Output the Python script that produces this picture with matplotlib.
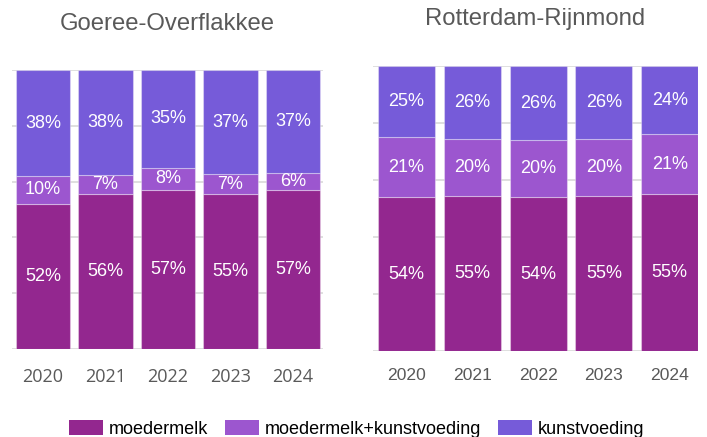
import matplotlib
matplotlib.use("Agg")
import matplotlib.pyplot as plt
from matplotlib.patches import Patch
import numpy as np

years = ["2020", "2021", "2022", "2023", "2024"]
series_names = ["moedermelk", "moedermelk+kunstvoeding", "kunstvoeding"]
colors = ["#93278F", "#9C56CF", "#765BD9"]

go_moedermelk = [52, 56, 57, 55, 57]
go_mm_kv = [10, 7, 8, 7, 6]
go_kunstvoeding = [38, 38, 35, 37, 37]

rr_moedermelk = [54, 55, 54, 55, 55]
rr_mm_kv = [21, 20, 20, 20, 21]
rr_kunstvoeding = [25, 26, 26, 26, 24]

titles = ["Goeree-Overflakkee", "Rotterdam-Rijnmond"]

W, H = 707, 437
fig = plt.figure(figsize=(W / 100, H / 100), dpi=100)

def px_axes(x0, y0, x1, y1):
    return fig.add_axes([x0 / W, 1 - y1 / H, (x1 - x0) / W, (y1 - y0) / H])

ax1 = px_axes(12, 70, 323, 349)
ax2 = px_axes(373, 66, 698, 351)

def draw(ax, data, xlim, barw, tickfont, tickpad, ticksize):
    data = np.array(data, dtype=float)
    totals = data.sum(axis=0)
    pct = data / totals * 100
    x = np.arange(len(years))
    bottom = np.zeros(len(years))
    for i, (vals, raw) in enumerate(zip(pct, data)):
        bars = ax.bar(x, vals, bottom=bottom, width=barw, color=colors[i],
                      edgecolor=(1, 1, 1, 0.35), linewidth=0.8, zorder=2)
        for b, v, bt, r in zip(bars, vals, bottom, raw):
            ax.text(b.get_x() + b.get_width() / 2, bt + v / 2, f"{int(r)}%",
                    ha="center", va="center", color="white", fontsize=13,
                    family="Liberation Sans", zorder=3)
        bottom += vals
    ax.set_ylim(0, 100)
    ax.set_xlim(*xlim)
    ax.set_yticks([0, 20, 40, 60, 80, 100])
    ax.yaxis.grid(True, color="#d9d9d9", linewidth=1.2, zorder=0)
    ax.set_axisbelow(True)
    ax.tick_params(axis="y", left=False, labelleft=False)
    ax.set_xticks(x)
    ax.set_xticklabels(years, family=tickfont, fontsize=ticksize, color="#595959")
    ax.tick_params(axis="x", length=0, pad=tickpad)
    for s in ax.spines.values():
        s.set_visible(False)

draw(ax1, [go_moedermelk, go_mm_kv, go_kunstvoeding], (-0.496, 4.48), 0.865,
     "Open Sans", 14, 13)
draw(ax2, [rr_moedermelk, rr_mm_kv, rr_kunstvoeding], (-0.51, 4.43), 0.867,
     "Liberation Sans", 12, 12.6)

fig.text(167.5 / W, 1 - 24 / H, titles[0], ha="center", va="center",
         fontsize=17.2, color="#595959", family="Liberation Sans")
fig.text(535 / W, 1 - 19 / H, titles[1], ha="center", va="center",
         fontsize=17.2, color="#595959", family="Liberation Sans")

handles = [Patch(facecolor=c, edgecolor="none", label=n) for c, n in zip(colors, series_names)]
fig.legend(handles=handles, loc="center", bbox_to_anchor=(356.5 / W, 1 - 429 / H),
           ncol=3, frameon=False, prop={"family": "Liberation Sans", "size": 13},
           handlelength=1.9, handleheight=0.85, handletextpad=0.3, columnspacing=0.95,
           borderpad=0, borderaxespad=0)

fig.savefig("out.png", dpi=100)
